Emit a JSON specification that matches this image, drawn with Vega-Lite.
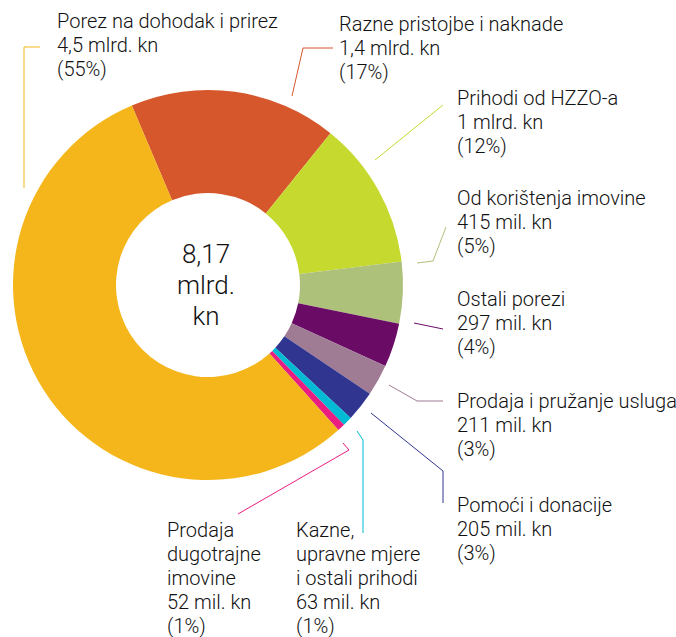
{
  "$schema": "https://vega.github.io/schema/vega-lite/v6.json",
  "width": 416,
  "height": 570,
  "autosize": {"type": "none"},
  "padding": {"left": 0, "top": 0, "right": 260, "bottom": 67},
  "background": "white",
  "config": {"view": {"stroke": null}},
  "datasets": {
    "slices": [
      {"name": "Razne pristojbe i naknade", "value": 1.4, "order": 1},
      {"name": "Prihodi od HZZO-a", "value": 1.0, "order": 2},
      {"name": "Od korištenja imovine", "value": 0.415, "order": 3},
      {"name": "Ostali porezi", "value": 0.297, "order": 4},
      {"name": "Prodaja i pružanje usluga", "value": 0.211, "order": 5},
      {"name": "Pomoći i donacije", "value": 0.205, "order": 6},
      {"name": "Kazne, upravne mjere i ostali prihodi", "value": 0.063, "order": 7},
      {"name": "Prodaja dugotrajne imovine", "value": 0.052, "order": 8},
      {"name": "Porez na dohodak i prirez", "value": 4.5, "order": 9}
    ],
    "labels": [
      {"name": "Porez na dohodak i prirez", "lx": 57, "ly": 28, "label": "Porez na dohodak i prirez\n4,5 mlrd. kn\n(55%)"},
      {"name": "Razne pristojbe i naknade", "lx": 339, "ly": 31, "label": "Razne pristojbe i naknade\n1,4 mlrd. kn\n(17%)"},
      {"name": "Prihodi od HZZO-a", "lx": 457, "ly": 105, "label": "Prihodi od HZZO-a\n1 mlrd. kn\n(12%)"},
      {"name": "Od korištenja imovine", "lx": 457, "ly": 205, "label": "Od korištenja imovine\n415 mil. kn\n(5%)"},
      {"name": "Ostali porezi", "lx": 457, "ly": 306, "label": "Ostali porezi\n297 mil. kn\n(4%)"},
      {"name": "Prodaja i pružanje usluga", "lx": 457, "ly": 408, "label": "Prodaja i pružanje usluga\n211 mil. kn\n(3%)"},
      {"name": "Pomoći i donacije", "lx": 457, "ly": 512, "label": "Pomoći i donacije\n205 mil. kn\n(3%)"},
      {"name": "Prodaja dugotrajne imovine", "lx": 167, "ly": 537, "label": "Prodaja\ndugotrajne\nimovine\n52 mil. kn\n(1%)"},
      {"name": "Kazne, upravne mjere i ostali prihodi", "lx": 296, "ly": 537, "label": "Kazne,\nupravne mjere\ni ostali prihodi\n63 mil. kn\n(1%)"}
    ],
    "leaders": [
      {"name": "Porez na dohodak i prirez", "seq": 1, "px": 40, "py": 47},
      {"name": "Porez na dohodak i prirez", "seq": 2, "px": 24, "py": 47},
      {"name": "Porez na dohodak i prirez", "seq": 3, "px": 24, "py": 188},
      {"name": "Razne pristojbe i naknade", "seq": 1, "px": 333, "py": 48},
      {"name": "Razne pristojbe i naknade", "seq": 2, "px": 303, "py": 48},
      {"name": "Razne pristojbe i naknade", "seq": 3, "px": 292, "py": 96},
      {"name": "Prihodi od HZZO-a", "seq": 1, "px": 443, "py": 105},
      {"name": "Prihodi od HZZO-a", "seq": 2, "px": 375, "py": 160},
      {"name": "Od korištenja imovine", "seq": 1, "px": 446, "py": 227},
      {"name": "Od korištenja imovine", "seq": 2, "px": 433, "py": 261},
      {"name": "Od korištenja imovine", "seq": 3, "px": 417, "py": 263},
      {"name": "Ostali porezi", "seq": 1, "px": 443, "py": 329},
      {"name": "Ostali porezi", "seq": 2, "px": 414, "py": 323},
      {"name": "Prodaja i pružanje usluga", "seq": 1, "px": 443, "py": 401},
      {"name": "Prodaja i pružanje usluga", "seq": 2, "px": 417, "py": 401},
      {"name": "Prodaja i pružanje usluga", "seq": 3, "px": 389, "py": 385},
      {"name": "Pomoći i donacije", "seq": 1, "px": 371, "py": 413},
      {"name": "Pomoći i donacije", "seq": 2, "px": 443, "py": 471},
      {"name": "Pomoći i donacije", "seq": 3, "px": 443, "py": 503},
      {"name": "Kazne, upravne mjere i ostali prihodi", "seq": 1, "px": 357, "py": 431},
      {"name": "Kazne, upravne mjere i ostali prihodi", "seq": 2, "px": 363, "py": 440},
      {"name": "Kazne, upravne mjere i ostali prihodi", "seq": 3, "px": 363, "py": 533},
      {"name": "Prodaja dugotrajne imovine", "seq": 1, "px": 343, "py": 443},
      {"name": "Prodaja dugotrajne imovine", "seq": 2, "px": 349, "py": 450},
      {"name": "Prodaja dugotrajne imovine", "seq": 3, "px": 238, "py": 514}
    ],
    "center": [
      {"t": "8,17\nmlrd.\nkn"}
    ]
  },
  "layer": [
    {
      "data": {"name": "slices"},
      "mark": {"type": "arc", "innerRadius": 92, "outerRadius": 195},
      "encoding": {
        "theta": {"field": "value", "type": "quantitative", "stack": true, "scale": {"range": [-0.4014, 5.8818]}},
        "order": {"field": "order", "type": "quantitative"},
        "color": {
          "field": "name",
          "type": "nominal",
          "legend": null,
          "scale": {
            "domain": ["Porez na dohodak i prirez", "Razne pristojbe i naknade", "Prihodi od HZZO-a", "Od korištenja imovine", "Ostali porezi", "Prodaja i pružanje usluga", "Pomoći i donacije", "Kazne, upravne mjere i ostali prihodi", "Prodaja dugotrajne imovine"],
            "range": ["#F5B61B", "#D6572C", "#C6D92E", "#AEC17A", "#6A0C66", "#A07B94", "#303590", "#00BBD3", "#E91E80"]
          }
        }
      }
    },
    {
      "data": {"name": "leaders"},
      "mark": {"type": "line", "strokeWidth": 1},
      "encoding": {
        "x": {"field": "px", "type": "quantitative", "scale": {"domain": [0, 416], "nice": false, "zero": false}, "axis": null},
        "y": {"field": "py", "type": "quantitative", "scale": {"domain": [0, 570], "nice": false, "zero": false, "reverse": true}, "axis": null},
        "color": {"field": "name", "type": "nominal", "legend": null},
        "order": {"field": "seq", "type": "quantitative"}
      }
    },
    {
      "data": {"name": "labels"},
      "mark": {"type": "text", "align": "left", "baseline": "alphabetic", "font": "Roboto", "fontSize": 20, "fontWeight": 300, "lineHeight": 24, "lineBreak": "\n", "color": "#111111"},
      "encoding": {
        "x": {"field": "lx", "type": "quantitative"},
        "y": {"field": "ly", "type": "quantitative"},
        "text": {"field": "label", "type": "nominal"}
      }
    },
    {
      "data": {"name": "center"},
      "mark": {"type": "text", "align": "center", "baseline": "middle", "font": "Roboto", "fontSize": 26, "fontWeight": 300, "lineHeight": 31, "lineBreak": "\n", "color": "#111111", "dx": -2, "dy": -30},
      "encoding": {
        "text": {"field": "t", "type": "nominal"}
      }
    }
  ]
}
